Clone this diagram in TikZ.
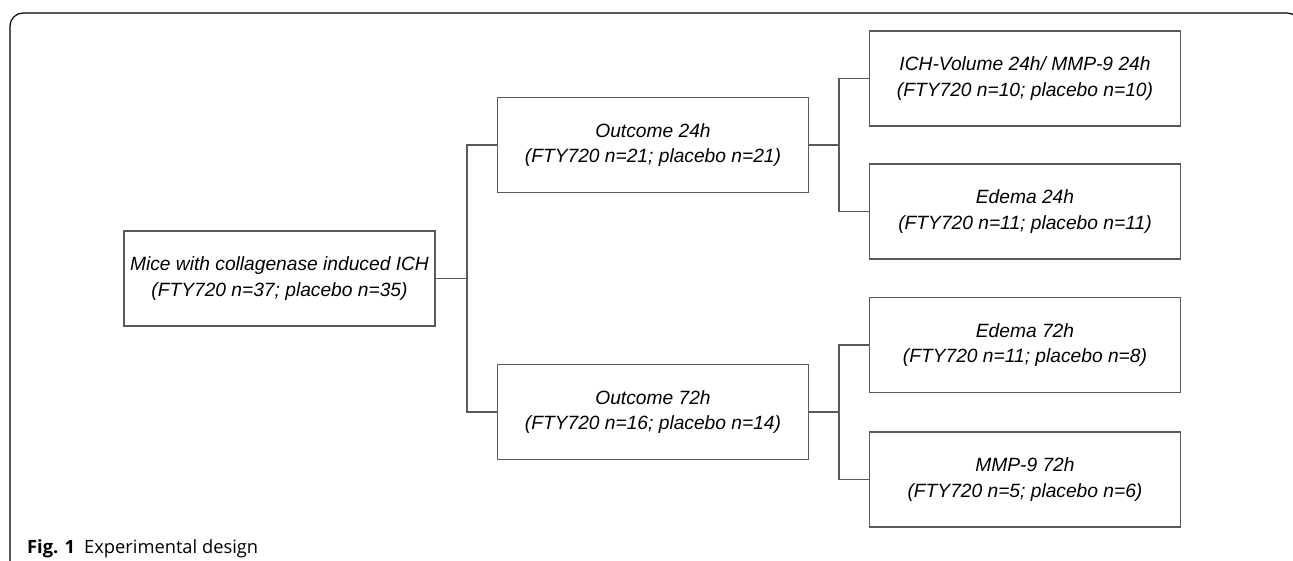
\documentclass[tikz,border=0pt]{standalone}
\usepackage{fontspec}
\setmainfont{Liberation Sans}
\newfontfamily\capfont{Open Sans}
\definecolor{boxgray}{HTML}{5A5A5A}
\tikzset{
  groupbox/.style={draw=boxgray, line width=1.2pt, minimum width=311pt,
    minimum height=95pt, inner sep=0pt, align=center,
    font=\fontsize{19.2}{25.5}\selectfont\itshape},
  link/.style={draw=boxgray, line width=1.2pt}
}
\begin{document}
\begin{tikzpicture}[x=1pt,y=1pt]
\useasboundingbox (0,0) rectangle (1293,-560);
% outer frame
\draw[line width=1.2pt, rounded corners=13pt] (10,-600) -- (10,-13) -- (1300,-13) -- (1300,-600);
% boxes
\node[groupbox] (mice) at (279.5,-278.5) {Mice with collagenase induced ICH\\(FTY720 n=37; placebo n=35)};
\node[groupbox] (out24) at (653,-145) {Outcome 24h\\(FTY720 n=21; placebo n=21)};
\node[groupbox] (out72) at (653,-412) {Outcome 72h\\(FTY720 n=16; placebo n=14)};
\node[groupbox] (vol24) at (1025,-78.5) {ICH-Volume 24h/ MMP-9 24h\\(FTY720 n=10; placebo n=10)};
\node[groupbox] (ede24) at (1025,-211.5) {Edema 24h\\(FTY720 n=11; placebo n=11)};
\node[groupbox] (ede72) at (1025,-345) {Edema 72h\\(FTY720 n=11; placebo n=8)};
\node[groupbox] (mmp72) at (1025,-479.5) {MMP-9 72h\\(FTY720 n=5; placebo n=6)};
% junctions
\coordinate (j0) at (467,-278.5);
\coordinate (j24) at (839,-145);
\coordinate (j72) at (839,-412);
% connectors
\draw[link] (mice.east) -- (j0) |- (out24.west);
\draw[link] (j0) |- (out72.west);
\draw[link] (out24.east) -- (j24) |- (vol24.west);
\draw[link] (j24) |- (ede24.west);
\draw[link] (out72.east) -- (j72) |- (ede72.west);
\draw[link] (j72) |- (mmp72.west);
% caption
\node[anchor=base west, inner sep=0pt, font=\capfont\fontsize{18.3}{20}\selectfont] (caption) at (27,-553) {\textbf{Fig. 1}\hspace{9pt}Experimental design};
\end{tikzpicture}
\end{document}
